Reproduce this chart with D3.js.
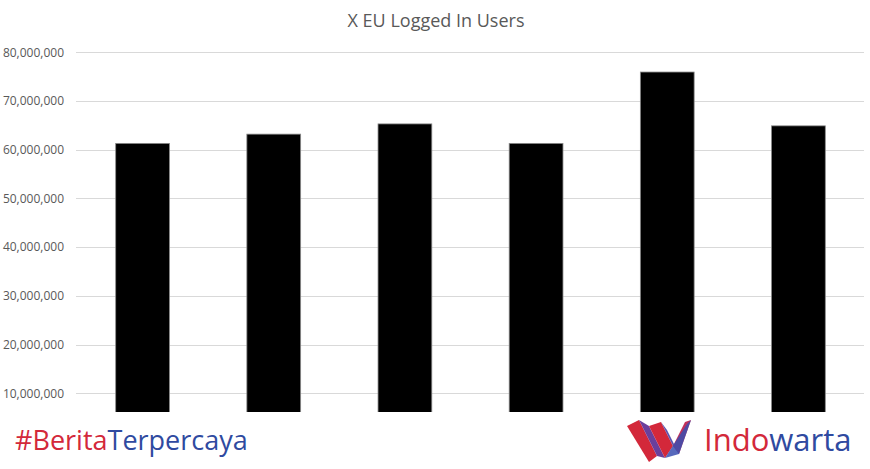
<!DOCTYPE html>
<html><head><meta charset="utf-8">
<script src="https://cdn.jsdelivr.net/npm/d3@7/dist/d3.min.js"></script>
<style>body{margin:0;background:#fff}svg{display:block}</style>
</head><body>
<svg id="c" width="870" height="469"></svg>
<script>
const categories = ["P1","P2","P3","P4","P5","P6"];
const users = [61300000, 63200000, 65300000, 61300000, 75950000, 64900000];
const yTicks = [10000000,20000000,30000000,40000000,50000000,60000000,70000000,80000000];
const title = "X EU Logged In Users";

const svg = d3.select("#c");
const W = 870, H = 469;
svg.append("rect").attr("width",W).attr("height",H).attr("fill","#fff");

const x = d3.scaleBand().domain(categories).range([77,864]).paddingInner(0.59).paddingOuter(0.295);
const y = d3.scaleLinear().domain([0,80000000]).range([442,52.3]);

// gridlines
svg.append("g").selectAll("line").data(yTicks).join("line")
  .attr("x1",76).attr("x2",864)
  .attr("y1",d=>Math.round(y(d))+0.5).attr("y2",d=>Math.round(y(d))+0.5)
  .attr("stroke","#d9d9d9").attr("stroke-width",1);

// y axis labels
const yAxis = d3.axisLeft(y).tickValues(yTicks).tickFormat(d3.format(",")).tickSize(0).tickPadding(0);
const ga = svg.append("g").attr("transform","translate(64,0)").call(yAxis);
ga.select(".domain").remove();
ga.selectAll("text").attr("fill","#595959").attr("font-family","'Open Sans', sans-serif").attr("font-size","12px");

// bars
svg.append("g").selectAll("rect").data(users).join("rect")
  .attr("x",(d,i)=>x(categories[i]))
  .attr("width",x.bandwidth())
  .attr("y",d=>y(d))
  .attr("height",d=>y(0)-y(d))
  .attr("fill","#000").attr("stroke","#8a8a8a").attr("stroke-width",0.8);

// title
svg.append("text").attr("x",436).attr("y",27).attr("text-anchor","middle")
  .attr("fill","#595959").attr("font-family","'Open Sans', sans-serif").attr("font-size","18px")
  .text(title);

// footer overlay
svg.append("rect").attr("x",0).attr("y",412).attr("width",W).attr("height",H-412).attr("fill","#fff");

const ft = svg.append("text").attr("x",15).attr("y",450)
  .attr("font-family","'Open Sans', sans-serif").attr("font-size","27px");
ft.append("tspan").attr("fill","#d3283a").text("#Berita");
ft.append("tspan").attr("fill","#2f4aa0").text("Terpercaya");

// logo W
const lg = svg.append("g").attr("transform","translate(627,418)");
lg.append("path").attr("d","M0,8 L12,2 L30,38 L22,44 Z").attr("fill","#d3283a");
lg.append("path").attr("d","M12,2 L22,8 L38,40 L30,38 Z").attr("fill","#6a3f9c");
lg.append("path").attr("d","M22,8 L34,4 L46,28 L38,40 Z").attr("fill","#d3283a");
lg.append("path").attr("d","M34,4 L40,12 L52,36 L46,28 Z").attr("fill","#5b55b0");
lg.append("path").attr("d","M52,36 L46,28 L58,4 L64,2 Z").attr("fill","#c0305a");
lg.append("path").attr("d","M38,40 L52,36 L64,2 L60,6 Z").attr("fill","#3a4fb0").attr("opacity",0.85);

const lt = svg.append("text").attr("x",704).attr("y",451)
  .attr("font-family","'Open Sans', sans-serif").attr("font-size","31px");
lt.append("tspan").attr("fill","#d3283a").text("Indo");
lt.append("tspan").attr("fill","#2f4aa0").text("warta");
</script>
</body></html>
